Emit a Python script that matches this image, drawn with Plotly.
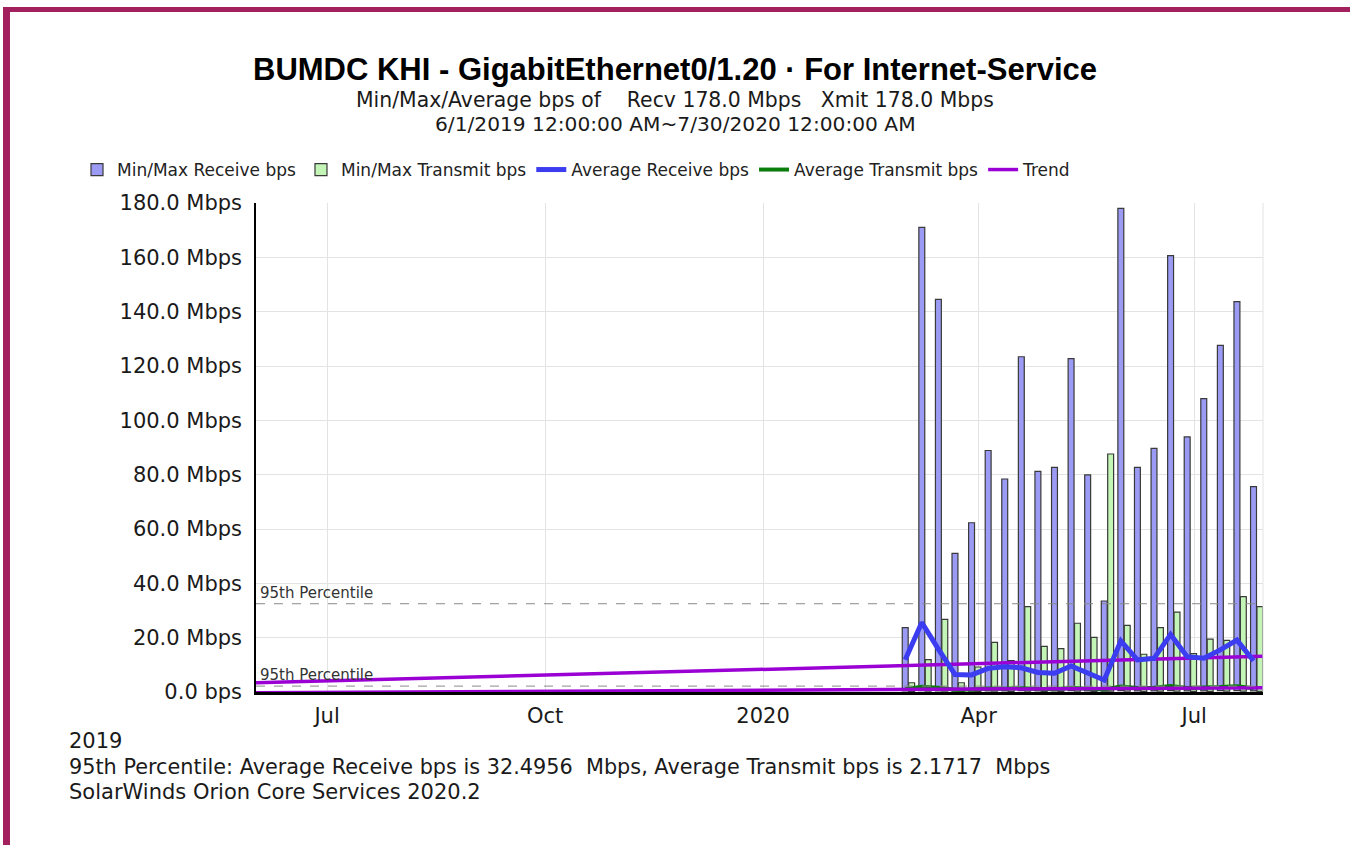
import plotly.graph_objects as go

# ---------------- data ----------------
week_dates = ["2020-03-01", "2020-03-08", "2020-03-15", "2020-03-22", "2020-03-29",
              "2020-04-05", "2020-04-12", "2020-04-19", "2020-04-26", "2020-05-03",
              "2020-05-10", "2020-05-17", "2020-05-24", "2020-05-31", "2020-06-07",
              "2020-06-14", "2020-06-21", "2020-06-28", "2020-07-05", "2020-07-12",
              "2020-07-19", "2020-07-26"]
recv_max = [23.7, 171.0, 144.5, 51.0, 62.3, 88.9, 78.4, 123.4, 81.2, 82.7, 122.7,
            79.9, 33.5, 178.0, 82.7, 89.7, 160.6, 93.9, 108.0, 127.6, 143.7, 75.6]
recv_min = [0.4, 0.5, 0.4, 0.3, 0.3, 0.4, 0.4, 0.5, 0.4, 0.4, 0.5,
            0.4, 0.3, 0.5, 0.4, 0.4, 0.5, 0.4, 0.4, 0.5, 0.5, 0.4]
xmit_max = [3.4, 11.9, 26.7, 3.4, 9.2, 18.3, 11.6, 31.4, 16.8, 16.0, 25.3,
            20.1, 87.6, 24.5, 13.9, 23.7, 29.4, 14.1, 19.5, 19.0, 35.1, 31.4]
xmit_min = [0.2, 0.3, 0.3, 0.2, 0.2, 0.3, 0.2, 0.3, 0.2, 0.2, 0.3,
            0.2, 0.3, 0.3, 0.2, 0.3, 0.3, 0.2, 0.2, 0.3, 0.3, 0.2]
avg_recv = [11.9, 25.6, 15.8, 6.4, 6.3, 8.7, 9.3, 8.9, 7.2, 6.9, 9.6,
            7.2, 4.4, 18.8, 11.8, 12.4, 21.2, 13.0, 12.4, 15.5, 19.1, 11.5]
avg_xmit = [1.0, 1.9, 1.6, 0.8, 0.9, 1.3, 1.2, 1.4, 1.1, 1.0, 1.5,
            1.2, 0.9, 2.0, 1.5, 1.6, 2.2, 1.5, 1.5, 1.8, 2.1, 1.4]
trend_dates = ["2019-06-01", "2020-07-30"]
trend_recv = [3.4, 13.2]
trend_xmit = [-0.25, 1.6]
p95_recv = 32.4956
p95_xmit = 2.1717

x_tick_vals = ["2019-07-01", "2019-10-01", "2020-01-01", "2020-04-01", "2020-07-01"]
x_tick_text = ["Jul", "Oct", "2020", "Apr", "Jul"]
y_tick_vals = [0, 20, 40, 60, 80, 100, 120, 140, 160, 180]
y_tick_text = ["0.0 bps", "20.0 Mbps", "40.0 Mbps", "60.0 Mbps", "80.0 Mbps",
               "100.0 Mbps", "120.0 Mbps", "140.0 Mbps", "160.0 Mbps", "180.0 Mbps"]

title = "BUMDC KHI - GigabitEthernet0/1.20 · For Internet-Service"
subtitle1 = "Min/Max/Average bps of &nbsp;&nbsp;&nbsp;Recv 178.0 Mbps &nbsp;&nbsp;Xmit 178.0 Mbps"
subtitle2 = "6/1/2019 12:00:00 AM~7/30/2020 12:00:00 AM"
foot_year = "2019"
foot1 = "95th Percentile: Average Receive bps is 32.4956 &nbsp;Mbps, Average Transmit bps is 2.1717 &nbsp;Mbps"
foot2 = "SolarWinds Orion Core Services 2020.2"

# ---------------- layout geometry ----------------
W, H = 1350, 845
L, R, T, B = 256, 87, 203, 153
PW = W - L - R
PH = H - T - B


def px(x):
    return (x - L) / PW


def py(y):
    return (H - B - y) / PH


FONT_T = "Liberation Sans, Arial, sans-serif"
FONT = "DejaVu Sans, Verdana, sans-serif"
TXT = "#1a1a1a"
DAY = 86400000
BW = 2.5 * DAY

fig = go.Figure()

fig.add_trace(go.Bar(
    x=week_dates, y=[a - b for a, b in zip(recv_max, recv_min)], base=recv_min,
    width=BW, offset=-1.25 * DAY, name="Min/Max Receive bps",
    marker=dict(color="#9b9bf5", line=dict(color="#3a3a3a", width=1.2)),
    legendrank=1))
fig.add_trace(go.Bar(
    x=week_dates, y=[a - b for a, b in zip(xmit_max, xmit_min)], base=xmit_min,
    width=BW, offset=1.45 * DAY, name="Min/Max Transmit bps",
    marker=dict(color="#c2f5b6", line=dict(color="#3a3a3a", width=1.2)),
    legendrank=2))

fig.add_trace(go.Scatter(
    x=week_dates, y=avg_xmit, mode="lines", name="Average Transmit bps",
    line=dict(color="#0a7d0a", width=4), legendrank=4))

fig.add_trace(go.Scatter(
    x=trend_dates, y=trend_recv, mode="lines", name="Trend",
    line=dict(color="#9a00d4", width=3.5), legendrank=5))
fig.add_trace(go.Scatter(
    x=trend_dates, y=trend_xmit, mode="lines", name="Trend", showlegend=False,
    line=dict(color="#9a00d4", width=3.5)))

fig.add_trace(go.Scatter(
    x=week_dates, y=avg_recv, mode="lines", name="Average Receive bps",
    line=dict(color="#3c3cf0", width=5), legendrank=3))

shapes = []
for v in (p95_recv, p95_xmit):
    shapes.append(dict(type="line", xref="paper", yref="y", x0=0, x1=1, y0=v, y1=v,
                       line=dict(color="#8a8a8a", width=1, dash="dash"), layer="above"))
# light right edge of the plot area
shapes.append(dict(type="line", xref="paper", yref="paper", x0=1, x1=1, y0=0, y1=1,
                   line=dict(color="#e3e3e3", width=1)))
# maroon frame (top and left)
frame = "#a2205e"
shapes.append(dict(type="rect", xref="paper", yref="paper", x0=px(3), x1=px(1352),
                   y0=py(12), y1=py(7), fillcolor=frame, line=dict(width=0)))
shapes.append(dict(type="rect", xref="paper", yref="paper", x0=px(3), x1=px(10),
                   y0=py(850), y1=py(7), fillcolor=frame, line=dict(width=0)))

ann = []
ann.append(dict(text="<b>" + title + "</b>", x=px(675), y=py(70), xref="paper", yref="paper",
                xanchor="center", yanchor="middle", showarrow=False,
                font=dict(family=FONT_T, size=31, color="#000000")))
ann.append(dict(text=subtitle1, x=px(675), y=py(100), xref="paper", yref="paper",
                xanchor="center", yanchor="middle", showarrow=False,
                font=dict(family=FONT, size=20.4, color=TXT)))
ann.append(dict(text=subtitle2, x=px(675), y=py(123.5), xref="paper", yref="paper",
                xanchor="center", yanchor="middle", showarrow=False,
                font=dict(family=FONT, size=20.2, color=TXT)))
for v in (p95_recv, p95_xmit):
    ann.append(dict(text="95th Percentile", x=px(258), y=v, xref="paper", yref="y",
                    xanchor="left", yanchor="bottom", showarrow=False, yshift=0,
                    font=dict(family=FONT, size=15, color="#333333")))
ann.append(dict(text=foot_year, x=px(67), y=py(741), xref="paper", yref="paper",
                xanchor="left", yanchor="middle", showarrow=False,
                font=dict(family=FONT, size=21, color=TXT)))
ann.append(dict(text=foot1, x=px(67), y=py(766.5), xref="paper", yref="paper",
                xanchor="left", yanchor="middle", showarrow=False,
                font=dict(family=FONT, size=20.8, color=TXT)))
ann.append(dict(text=foot2, x=px(67), y=py(791.5), xref="paper", yref="paper",
                xanchor="left", yanchor="middle", showarrow=False,
                font=dict(family=FONT, size=21, color=TXT)))

fig.update_layout(
    width=W, height=H,
    margin=dict(l=L, r=R, t=T, b=B, autoexpand=False),
    paper_bgcolor="white", plot_bgcolor="white",
    barmode="overlay",
    showlegend=True,
    legend=dict(orientation="h", x=px(77), y=py(170), xanchor="left", yanchor="middle",
                font=dict(family=FONT, size=17, color="#222222"),
                bgcolor="rgba(0,0,0,0)", itemwidth=30, traceorder="normal"),
    shapes=shapes, annotations=ann,
    font=dict(family=FONT),
)
fig.update_xaxes(type="date", range=["2019-06-01", "2020-07-30"],
                 tickmode="array", tickvals=x_tick_vals, ticktext=x_tick_text,
                 showgrid=True, gridcolor="#e3e3e3", gridwidth=1,
                 showline=True, linecolor="#000000", linewidth=2.5,
                 ticks="outside", ticklen=3, tickcolor="rgba(0,0,0,0)",
                 tickfont=dict(family=FONT, size=21, color=TXT), zeroline=False)
fig.update_yaxes(range=[0, 180], tickmode="array", tickvals=y_tick_vals, ticktext=y_tick_text,
                 showgrid=True, gridcolor="#e3e3e3", gridwidth=1,
                 showline=True, linecolor="#000000", linewidth=1.5,
                 ticks="outside", ticklen=8, tickcolor="rgba(0,0,0,0)",
                 tickfont=dict(family=FONT, size=21, color=TXT), zeroline=False)

fig.write_html("out.html", config={"displayModeBar": False},
               post_script="document.body.style.margin='0px';")
